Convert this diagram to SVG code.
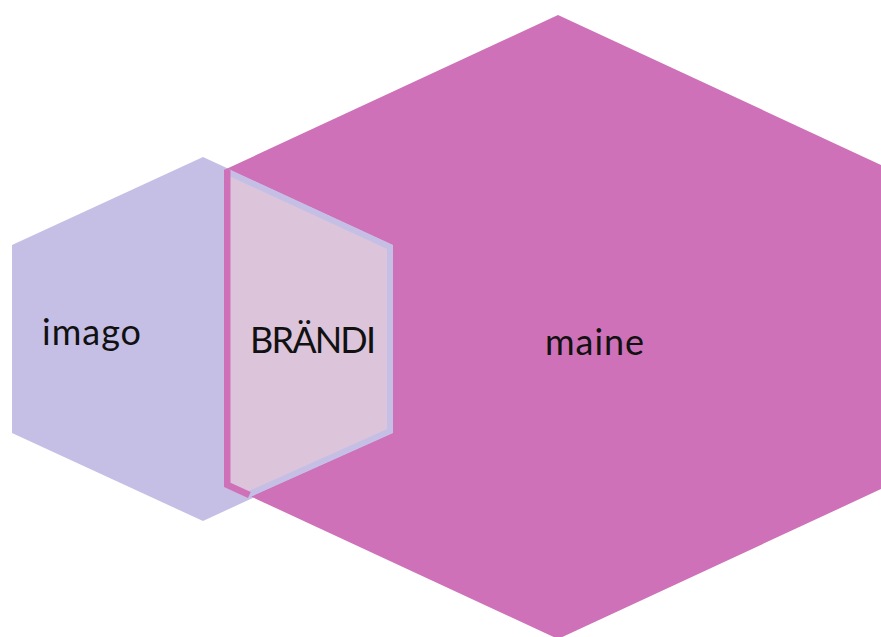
<svg xmlns="http://www.w3.org/2000/svg" width="881" height="637" viewBox="0 0 881 637">
  <style>
    .label { font-family: Lato, "Liberation Sans", sans-serif; font-size: 36px; fill: #111; }
    .edge-m { stroke: #CE71B8; stroke-width: 13; fill: none; }
    .edge-l { stroke: #C5BFE6; stroke-width: 12; fill: none; }
  </style>
  <defs>
    <!-- region shared by both hexagons -->
    <clipPath id="overlapClip">
      <polygon points="224,170 227.4,168.6 393,245 393,433 248,498 224,487"/>
    </clipPath>
  </defs>
  <rect width="881" height="637" fill="#FFFFFF"/>

  <g id="imago">
    <polygon points="203,157 393,245 393,433 203,521 12,433 12,245" fill="#C5BFE6"/>
  </g>

  <g id="maine">
    <polygon points="558,15 892,170 892,484 558,639 224,484 224,170" fill="#CE71B8"/>
  </g>

  <g id="brandi" clip-path="url(#overlapClip)">
    <polygon points="224,170 227.4,168.6 393,245 393,433 248,498 224,487" fill="#DCC5DB"/>
    <polyline class="edge-l" points="227.4,168.6 393,245 393,433 248,498"/>
    <polyline class="edge-m" points="224,165 224,487 248,498"/>
  </g>

  <g id="labels">
    <text class="label" x="42" y="345" textLength="99">imago</text>
    <text class="label" x="250" y="353" textLength="126">BRÄNDI</text>
    <text class="label" x="545" y="355" textLength="99">maine</text>
  </g>
</svg>
